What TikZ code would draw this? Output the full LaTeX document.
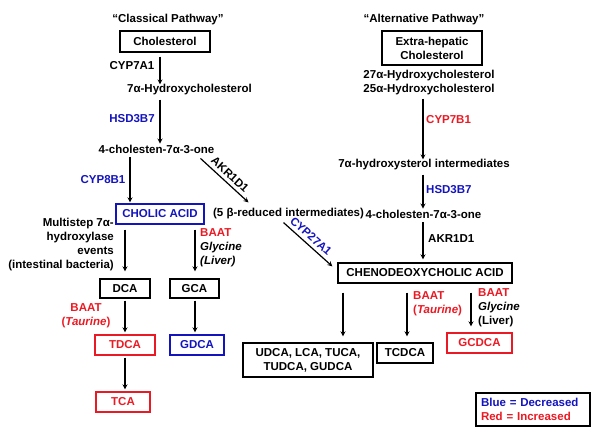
\documentclass[tikz,border=0pt]{standalone}
\usepackage{fontspec}
\setmainfont{Liberation Sans}
\usetikzlibrary{positioning,calc,arrows.meta}
\tikzset{>=stealth}
\definecolor{decr}{RGB}{20,20,190}
\definecolor{incr}{RGB}{235,25,35}
\tikzset{
  box/.style={draw,line width=1.3pt,inner sep=0pt,align=center},
  lbl/.style={inner sep=0pt,align=center},
  arr/.style={->,line width=1.2pt},
}

\begin{document}
\begin{tikzpicture}[x=1pt,y=-1pt,font=\fontsize{11.5}{14}\selectfont\bfseries]
\useasboundingbox (0,0) rectangle (600,441);

% Classical pathway
\node [lbl] (classic) at (168,20) {``Classical Pathway''};
\node [box,minimum width=90pt,minimum height=21pt] (chol) at (165,41.5) {Cholesterol};
\node [lbl] (cyp7a1) at (132,66) {CYP7A1};
\node [lbl] (hydchol) at (189.5,90) {7α-Hydroxycholesterol};
\node [lbl,text=decr] (hsdA) at (132,119) {HSD3B7};
\node [lbl] (choleA) at (156.5,149) {4-cholesten-7α-3-one};
\node [lbl,text=decr] (cyp8b1) at (103,180) {CYP8B1};
\node [box,draw=decr,text=decr,minimum width=88pt,minimum height=20pt] (cholic) at (160,214) {CHOLIC ACID};
\node [lbl] (red5) at (288.5,214) {(5 β-reduced intermediates)};

\node [lbl,align=right,anchor=east] (multi) at (114,245)
  {Multistep 7α-\\hydroxylase\\events\\(intestinal bacteria)};
\node [lbl,align=left,anchor=west] (baatG) at (200,247.5)
  {\textcolor{incr}{BAAT}\\\textit{Glycine}\\\textit{(Liver)}};

\node [box,minimum width=50pt,minimum height=19pt] (dca) at (125,288.5) {DCA};
\node [box,minimum width=49pt,minimum height=19pt] (gca) at (194.5,288.5) {GCA};
\node [lbl,text=incr] (baatT) at (86,315.5) {BAAT\\(\textit{Taurine})};
\node [box,draw=incr,text=incr,minimum width=60pt,minimum height=20pt] (tdca) at (125,345) {TDCA};
\node [box,draw=decr,text=decr,minimum width=54pt,minimum height=20pt] (gdca) at (197,345) {GDCA};
\node [box,draw=incr,text=incr,minimum width=54pt,minimum height=20pt] (tca) at (123,402) {TCA};

% Alternative pathway
\node [lbl] (alter) at (424,20) {``Alternative Pathway''};
\node [box,minimum width=100pt,minimum height=34pt] (extra) at (432,48) {Extra-hepatic\\Cholesterol};
\node [lbl] (hydro2) at (429,83) {27α-Hydroxycholesterol\\25α-Hydroxycholesterol};
\node [lbl,anchor=west,text=incr] (cyp7b1) at (426,120) {CYP7B1};
\node [lbl] (sterol) at (424,165) {7α-hydroxysterol intermediates};
\node [lbl,anchor=west,text=decr] (hsdB) at (426,190) {HSD3B7};
\node [lbl] (choleB) at (423.5,214) {4-cholesten-7α-3-one};
\node [lbl,anchor=west] (akrB) at (428,239) {AKR1D1};
\node [box,minimum width=174pt,minimum height=20pt] (cdca) at (425,273) {CHENODEOXYCHOLIC ACID};

\node [lbl,align=left,anchor=west,text=incr] (baatT2) at (413,304) {BAAT\\(\textit{Taurine})};
\node [lbl,align=left,anchor=west] (baatG2) at (478,307.5)
  {\textcolor{incr}{BAAT}\\\textit{Glycine}\\(Liver)};
\node [box,minimum width=130pt,minimum height=34pt] (udca) at (308,360) {UDCA, LCA, TUCA,\\TUDCA, GUDCA};
\node [box,minimum width=56pt,minimum height=20pt] (tcdca) at (405,353) {TCDCA};
\node [box,draw=incr,text=incr,minimum width=65pt,minimum height=20pt] (gcdca) at (479.5,343) {GCDCA};

% Legend
\node [box,align=left,minimum width=114pt,minimum height=33pt,text width=104pt] (legend) at (533,409.5)
  {\textcolor{decr}{Blue = Decreased}\\\textcolor{incr}{Red = Increased}};

% Arrows, classical
\coordinate (xa) at (160,0);
\coordinate (xb) at (130,0);
\coordinate (xc) at (125,0);
\coordinate (xd) at (195,0);
\draw[arr,shorten <=4pt] (chol.south -| xa) -- (hydchol.north -| xa);
\draw[arr,shorten <=4pt,shorten >=1pt] (hydchol.south -| xa) -- (choleA.north -| xa);
\draw[arr,shorten <=4pt,shorten >=1pt] (choleA.south -| xb) -- (cholic.north -| xb);
\draw[arr] ([xshift=44pt,yshift=-5pt]choleA.south) -- node[lbl,sloped,above=3.5pt] {AKR1D1} ([xshift=-40pt,yshift=6pt]red5.north);
\draw[arr,shorten <=5pt,shorten >=7pt] (cholic.south -| xc) -- (dca.north -| xc);
\draw[arr,shorten <=5pt,shorten >=7pt] (cholic.south -| xd) -- (gca.north -| xd);
\draw[arr,shorten <=2pt,shorten >=2pt] (dca.south -| xc) -- (tdca.north -| xc);
\draw[arr,shorten <=2pt,shorten >=2pt] (gca.south -| xd) -- (gdca.north -| xd);
\draw[arr,shorten <=2pt,shorten >=2pt] (tdca.south -| xc) -- (tca.north -| xc);

% Arrows, alternative
\coordinate (xe) at (423,0);
\coordinate (xf) at (343,0);
\coordinate (xg) at (407,0);
\coordinate (xh) at (471,0);
\draw[arr,shorten <=3pt] (hydro2.south -| xe) -- (sterol.north -| xe);
\draw[arr,shorten <=4pt,shorten >=1pt] (sterol.south -| xe) -- (choleB.north -| xe);
\draw[arr,shorten <=4pt,shorten >=3pt] (choleB.south -| xe) -- (cdca.north -| xe);
\draw[arr] ([xshift=-5pt,yshift=-3pt]red5.south) -- node[lbl,sloped,above=3.5pt,pos=0.45,text=decr] {CYP27A1} ([xshift=-5pt,yshift=-4pt]cdca.north west);
\draw[arr,shorten <=9pt,shorten >=6pt] (cdca.south -| xf) -- (udca.north -| xf);
\draw[arr,shorten <=9pt,shorten >=6pt] (cdca.south -| xg) -- (tcdca.north -| xg);
\draw[arr,shorten <=9pt,shorten >=6pt] (cdca.south -| xh) -- (gcdca.north -| xh);

\end{tikzpicture}
\end{document}
